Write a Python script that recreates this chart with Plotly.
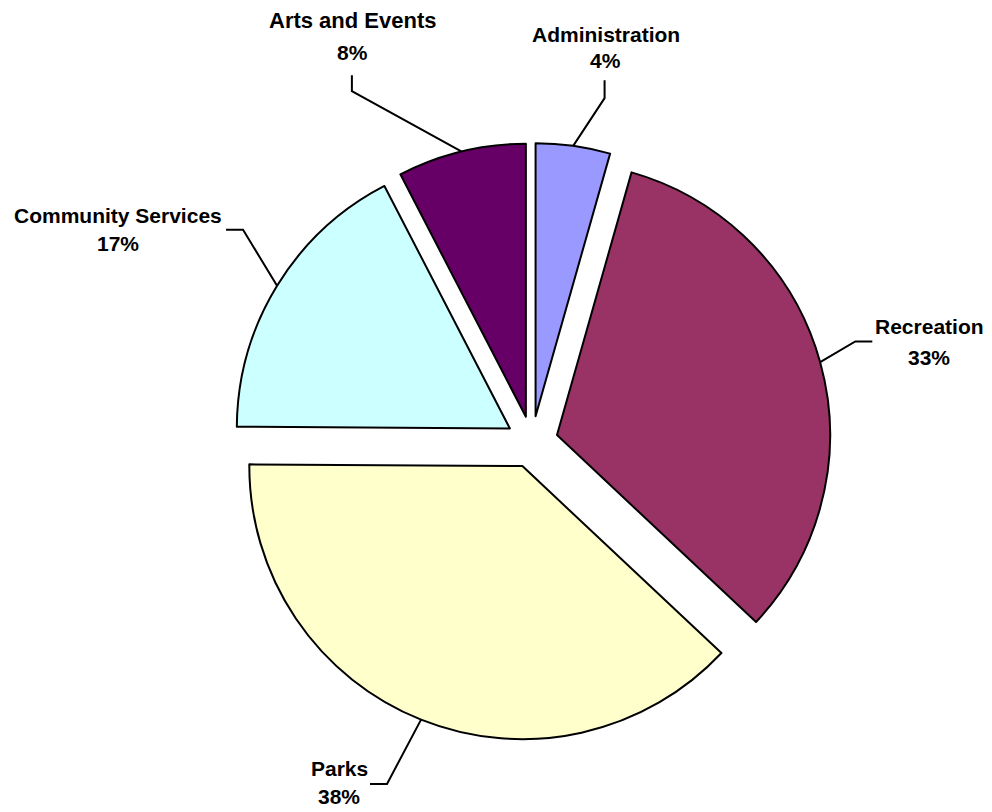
import math
import plotly.graph_objects as go

# ---- data ----
categories = ["Administration", "Recreation", "Parks", "Community Services", "Arts and Events"]
values = [4.4, 32.6, 38.1, 17.3, 7.6]
colors = ["#9999FF", "#993366", "#FFFFCC", "#CCFFFF", "#660066"]

# ---- layout geometry (pixels) ----
W, H = 992, 812
CX, CY = 532, 442          # pie centre
R_TOTAL = 299              # radius incl. pull
PULL = 0.095
R = R_TOTAL / (1 + PULL)   # slice radius as plotly computes it

# leader-line / label placement relative to the pie:
# dang: angle offset of the elbow from slice mid-angle, rf: elbow radius factor,
# seg: direction of final leader segment, L: its length,
# tdx/tdy1/tdy2: text-line centres relative to the leader end
label_cfg = {
    "Administration":     dict(dang=4.0,  rf=1.287, seg="up",    L=18, tdx=1,    tdy1=-46, tdy2=-20, fs1=21),
    "Recreation":         dict(dang=-1.8, rf=1.24,  seg="right", L=17, tdx=57,   tdy1=-15, tdy2=16,  fs1=21),
    "Parks":              dict(dang=1.2,  rf=1.36,  seg="left",  L=17, tdx=-31,  tdy1=-15, tdy2=13,  fs1=21),
    "Community Services": dict(dang=4.8,  rf=1.313, seg="left",  L=17, tdx=-108, tdy1=-14, tdy2=14,  fs1=21),
    "Arts and Events":    dict(dang=-13.5, rf=1.444, seg="up",   L=16, tdx=1,    tdy1=-55, tdy2=-23, fs1=22),
}

FONT = "Liberation Sans, Arial, sans-serif"
FS = 21
LW = 2


def px(x, y):
    return x / W, 1 - y / H


def u(theta_deg):
    t = math.radians(theta_deg)
    return math.sin(t), -math.cos(t)


fig = go.Figure(
    go.Pie(
        labels=categories,
        values=values,
        sort=False,
        direction="clockwise",
        rotation=0,
        pull=[PULL] * len(values),
        marker=dict(colors=colors, line=dict(color="black", width=LW)),
        textinfo="none",
        hoverinfo="skip",
        showlegend=False,
        domain=dict(
            x=[(CX - R_TOTAL) / W, (CX + R_TOTAL) / W],
            y=[1 - (CY + R_TOTAL) / H, 1 - (CY - R_TOTAL) / H],
        ),
    )
)

total = sum(values)
cum = 0.0
shapes = []
annotations = []
for cat, v in zip(categories, values):
    mid = (cum + v / 2) / total * 360
    cum += v
    pct = f"{round(v / total * 100)}%"
    cfg = label_cfg[cat]
    ux, uy = u(mid)
    ax, ay = CX + R_TOTAL * ux, CY + R_TOTAL * uy
    ex_, ey_ = u(mid + cfg["dang"])
    ex, ey = CX + R * cfg["rf"] * ex_, CY + R * cfg["rf"] * ey_
    if cfg["seg"] == "up":
        fx, fy = ex, ey - cfg["L"]
    elif cfg["seg"] == "left":
        fx, fy = ex - cfg["L"], ey
    else:
        fx, fy = ex + cfg["L"], ey
    p1, p2, p3 = px(ax, ay), px(ex, ey), px(fx, fy)
    shapes.append(dict(
        type="path", xref="paper", yref="paper",
        path=f"M {p1[0]},{p1[1]} L {p2[0]},{p2[1]} L {p3[0]},{p3[1]}",
        line=dict(color="black", width=LW),
    ))
    tx = fx + cfg["tdx"]
    for txt, dy, fs in ((cat, cfg["tdy1"], cfg["fs1"]), (pct, cfg["tdy2"], FS)):
        annotations.append(dict(
            xref="paper", yref="paper", x=tx / W, y=1 - (fy + dy) / H,
            text=f"<b>{txt}</b>", showarrow=False,
            xanchor="center", yanchor="middle", align="center",
            font=dict(family=FONT, size=fs, color="black"),
        ))

fig.update_layout(
    width=W, height=H,
    margin=dict(l=0, r=0, t=0, b=0),
    paper_bgcolor="white", plot_bgcolor="white",
    shapes=shapes, annotations=annotations,
)

fig.write_html("out.html")
